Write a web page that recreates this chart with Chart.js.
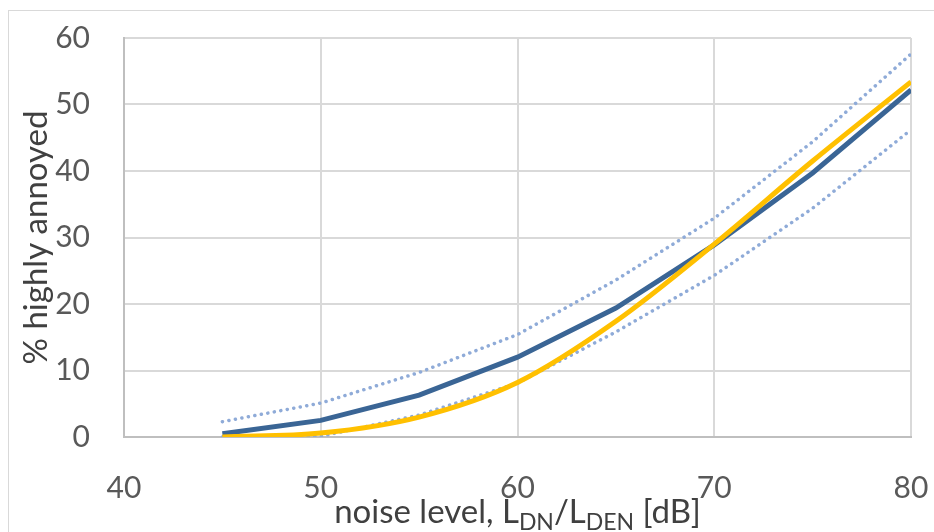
<!DOCTYPE html>
<html>
<head>
<meta charset="utf-8">
<script src="https://cdn.jsdelivr.net/npm/chart.js@4/dist/chart.umd.min.js"></script>
<style>
  html, body { margin: 0; padding: 0; background: #fff; }
  #wrap { width: 934px; height: 532px; position: relative; }
</style>
</head>
<body>
<div id="wrap"><canvas id="lineChart"></canvas></div>
<script>
const levels = [45, 50, 55, 60, 65, 70, 75, 80];
const fitted = [0.5, 2.5, 6.3, 12.0, 19.4, 28.9, 39.7, 52.2];
const model = [0.0, 0.6, 3.0, 8.2, 17.4, 29.0, 41.5, 53.4];
const upperBound = [2.3, 5.1, 9.7, 15.4, 23.6, 32.9, 44.4, 57.6];
const lowerBound = [0.0, 0.1, 3.3, 8.1, 15.8, 24.3, 34.4, 46.2];
const xTicks = [40, 50, 60, 70, 80];
const yTicks = [0, 10, 20, 30, 40, 50, 60];

const pts = (vals) => vals.map((v, i) => ({ x: levels[i], y: v }));
const FONT = "Lato, 'Open Sans', sans-serif";

// axis titles with subscripts + outer frame
const titlesPlugin = {
  id: "titles",
  afterDraw(chart) {
    const ctx = chart.ctx;
    const a = chart.chartArea;
    ctx.save();
    ctx.strokeStyle = "#d9d9d9";
    ctx.lineWidth = 1;
    ctx.strokeRect(8.5, 10.5, 940, 540);

    ctx.fillStyle = "#404040";
    ctx.textBaseline = "alphabetic";
    const parts = [
      ["noise level, L", 33, 0],
      ["DN", 23, 7],
      ["/L", 33, 0],
      ["DEN", 23, 7],
      [" [dB]", 33, 0],
    ];
    let total = 0;
    parts.forEach((p) => {
      ctx.font = p[1] + "px " + FONT;
      total += ctx.measureText(p[0]).width;
    });
    let x = (a.left + a.right) / 2 - total / 2;
    const base = 523;
    parts.forEach((p) => {
      ctx.font = p[1] + "px " + FONT;
      ctx.fillText(p[0], x, base + p[2]);
      x += ctx.measureText(p[0]).width;
    });

    ctx.translate(36, (a.top + a.bottom) / 2);
    ctx.rotate(-Math.PI / 2);
    ctx.font = "33px " + FONT;
    ctx.textAlign = "center";
    ctx.textBaseline = "middle";
    ctx.fillText("% highly annoyed", 0, 0);
    ctx.restore();
  },
};

document.addEventListener("DOMContentLoaded", () => {
  const lineChart = document.querySelector("#lineChart");

  new Chart(lineChart, {
    type: "line",
    data: {
      datasets: [
        {
          label: "model",
          data: pts(model),
          borderColor: "#ffc000",
          borderWidth: 5,
          cubicInterpolationMode: "monotone",
        },
        {
          label: "fitted",
          data: pts(fitted),
          borderColor: "#3a6595",
          borderWidth: 5,
        },
        {
          label: "upper",
          data: pts(upperBound),
          borderColor: "#8fabd8",
          borderWidth: 3.5,
          borderDash: [0.1, 6.5],
          borderCapStyle: "round",
        },
        {
          label: "lower",
          data: pts(lowerBound),
          borderColor: "#8fabd8",
          borderWidth: 3.5,
          borderDash: [0.1, 6.5],
          borderCapStyle: "round",
        },
      ],
    },
    options: {
      responsive: true,
      maintainAspectRatio: false,
      animation: false,
      elements: { point: { radius: 0 }, line: { tension: 0 } },
      layout: { padding: { top: 38, right: 23, left: 0, bottom: 0 } },
      plugins: { legend: { display: false }, tooltip: { enabled: false } },
      scales: {
        x: {
          type: "linear",
          min: 40,
          max: 80,
          afterBuildTicks: (s) => { s.ticks = xTicks.map((v) => ({ value: v })); },
          afterFit: (s) => { s.height = 95; s.paddingLeft = 0; s.paddingRight = 0; },
          grid: { color: "#d9d9d9", lineWidth: 2, drawTicks: false },
          border: { color: "#bfbfbf", width: 2 },
          ticks: { color: "#595959", font: { family: FONT, size: 30 }, padding: 33, maxRotation: 0 },
        },
        y: {
          min: 0,
          max: 60,
          afterBuildTicks: (s) => { s.ticks = yTicks.map((v) => ({ value: v })); },
          afterFit: (s) => { s.width = 124; s.paddingTop = 0; s.paddingBottom = 0; },
          grid: { color: "#d9d9d9", lineWidth: 2, drawTicks: false },
          border: { color: "#bfbfbf", width: 2 },
          ticks: { color: "#595959", font: { family: FONT, size: 30 }, padding: 34 },
        },
      },
    },
    plugins: [titlesPlugin],
  });
});
</script>
</body>
</html>
